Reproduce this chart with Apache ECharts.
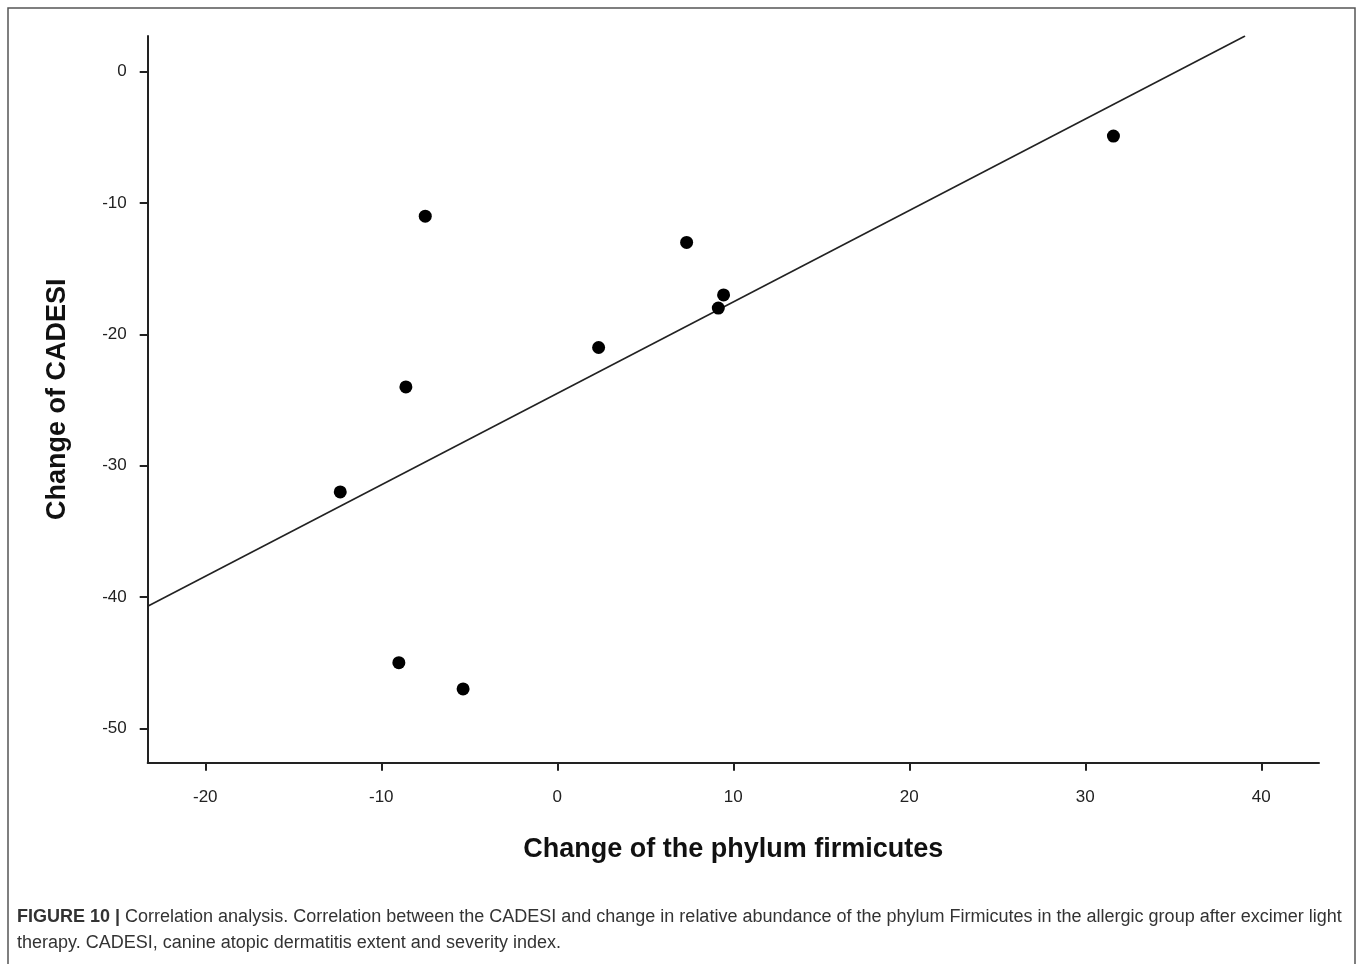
<!DOCTYPE html>
<html>
<head>
<meta charset="utf-8">
<script src="https://cdn.jsdelivr.net/npm/echarts@6/dist/echarts.min.js"></script>
<style>
html,body{margin:0;padding:0;background:#fff;}
#chart{width:1360px;height:964px;}
</style>
</head>
<body>
<div id="chart"></div>
<script>
// Data
var firmicutesChange = [-12.33, -7.5, -8.6, -9.0, -5.35, 2.35, 7.35, 9.15, 9.45, 31.6];
var cadesiChange     = [-32, -11, -24, -45, -47, -21, -13, -18, -17, -4.9];
// Fit line endpoints (as drawn, clipped to the plot area)
var fitLineX = [-23.27, 39.08];
var fitLineY = [-40.7, 2.72];
var xTicks = [-20, -10, 0, 10, 20, 30, 40];
var yTicks = [0, -10, -20, -30, -40, -50];

var scatterData = firmicutesChange.map(function (x, i) { return [x, cadesiChange[i]]; });
var lineData = fitLineX.map(function (x, i) { return [x, fitLineY[i]]; });

var FONT = 'Liberation Sans, Arial, sans-serif';
var chart = echarts.init(document.getElementById('chart'), null, {renderer: 'canvas'});
var axisCol = '#222';
chart.setOption({
  backgroundColor: '#fff',
  animation: false,
  grid: {left: 147.7, top: 36, width: 1171.3, height: 726.7, containLabel: false},
  xAxis: {
    type: 'value', min: -23.27, max: 43.28, interval: 10,
    splitLine: {show: false},
    axisLine: {show: true, onZero: false, lineStyle: {color: axisCol, width: 2}},
    axisTick: {show: true, length: 8, lineStyle: {color: axisCol, width: 2}, customValues: xTicks},
    axisLabel: {margin: 26, color: '#222', fontSize: 17, fontFamily: FONT, customValues: xTicks},
    name: 'Change of the phylum firmicutes', nameLocation: 'middle', nameGap: 73,
    nameTextStyle: {fontSize: 27, fontWeight: 'bold', color: '#111', fontFamily: FONT}
  },
  yAxis: {
    type: 'value', min: -52.62, max: 2.72,
    splitLine: {show: false},
    axisLine: {show: true, onZero: false, lineStyle: {color: axisCol, width: 2}},
    axisTick: {show: true, length: 8, lineStyle: {color: axisCol, width: 2}, customValues: yTicks},
    axisLabel: {margin: 21, color: '#222', fontSize: 17, fontFamily: FONT, customValues: yTicks},
    name: 'Change of CADESI', nameLocation: 'middle', nameGap: 77, nameRotate: 90,
    nameTextStyle: {fontSize: 27, fontWeight: 'bold', color: '#111', fontFamily: FONT}
  },
  series: [
    {
      type: 'line', data: lineData, showSymbol: false, symbol: 'none',
      lineStyle: {color: '#222', width: 1.6}, silent: true, z: 2
    },
    {
      type: 'scatter', data: scatterData, symbol: 'circle', symbolSize: 13,
      itemStyle: {color: '#000', opacity: 1}, z: 3
    }
  ],
  graphic: [
    {type: 'rect', shape: {x: 8, y: 8, width: 1347, height: 980}, style: {fill: 'none', stroke: '#555', lineWidth: 1.5}, silent: true},
    {type: 'text', left: 17, top: 908, style: {
      text: '{b|FIGURE 10 |} Correlation analysis. Correlation between the CADESI and change in relative abundance of the phylum Firmicutes in the allergic group after excimer light',
      rich: {b: {fontWeight: 'bold', fontSize: 18, fill: '#333', fontFamily: FONT}},
      fontSize: 18, fill: '#333', fontFamily: FONT}},
    {type: 'text', left: 17, top: 934, style: {
      text: 'therapy. CADESI, canine atopic dermatitis extent and severity index.',
      fontSize: 18, fill: '#333', fontFamily: FONT}}
  ]
});
</script>
</body>
</html>
